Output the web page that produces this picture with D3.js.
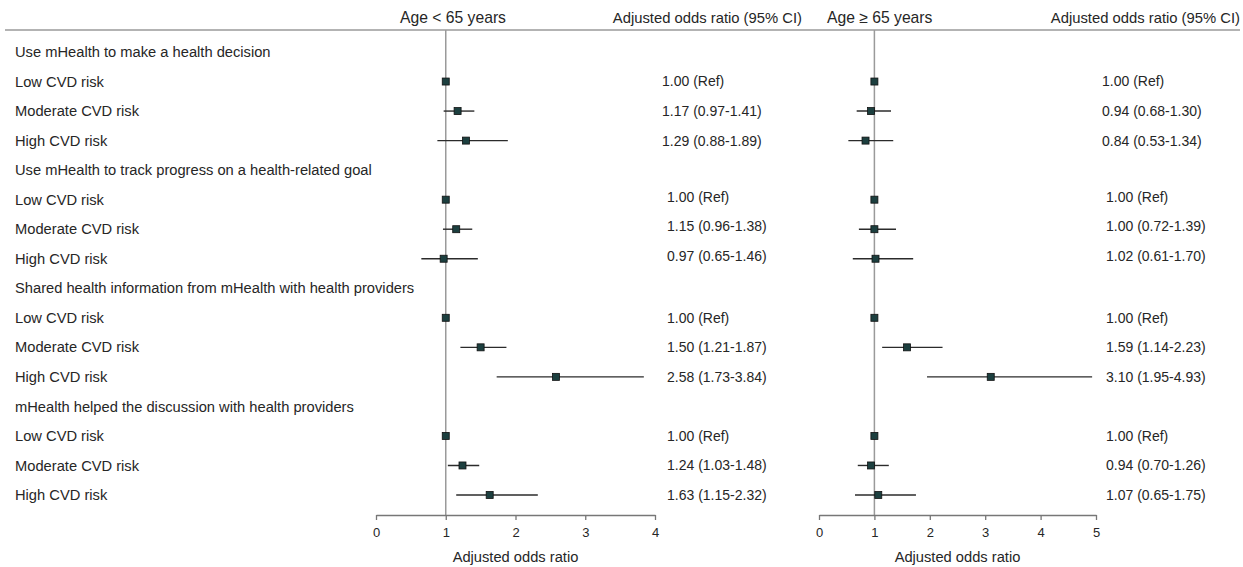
<!DOCTYPE html>
<html>
<head>
<meta charset="utf-8">
<script src="https://cdn.jsdelivr.net/npm/d3@7"></script>
<style>
  body { margin: 0; background: #fff; }
  text { font-family: "Liberation Sans", Arial, sans-serif; fill: #262626; }
</style>
</head>
<body>
<div id="chart"></div>
<script>
// Datos
const grupos = [
    "Use mHealth to make a health decision",
    "Use mHealth to track progress on a health-related goal",
    "Shared health information from mHealth with health providers",
    "mHealth helped the discussion with health providers"
];
const riesgos = ["Low CVD risk", "Moderate CVD risk", "High CVD risk"];

// Edad < 65
const jovenOR = [1.00, 1.17, 1.29, 1.00, 1.15, 0.97, 1.00, 1.50, 2.58, 1.00, 1.24, 1.63];
const jovenLo = [null, 0.97, 0.88, null, 0.96, 0.65, null, 1.21, 1.73, null, 1.03, 1.15];
const jovenHi = [null, 1.41, 1.89, null, 1.38, 1.46, null, 1.87, 3.84, null, 1.48, 2.32];

// Edad >= 65
const mayorOR = [1.00, 0.94, 0.84, 1.00, 1.00, 1.02, 1.00, 1.59, 3.10, 1.00, 0.94, 1.07];
const mayorLo = [null, 0.68, 0.53, null, 0.72, 0.61, null, 1.14, 1.95, null, 0.70, 0.65];
const mayorHi = [null, 1.30, 1.34, null, 1.39, 1.70, null, 2.23, 4.93, null, 1.26, 1.75];

const ticksJoven = [0, 1, 2, 3, 4];
const ticksMayor = [0, 1, 2, 3, 4, 5];

const titulos = ["Age < 65 years", "Age \u2265 65 years"];
const tituloCI = "Adjusted odds ratio (95% CI)";
const tituloEje = "Adjusted odds ratio";

// Filas: grupo + 3 niveles de riesgo
const filas = [];
grupos.forEach((g, gi) => {
    filas.push({ tipo: "grupo", texto: g, grupo: gi });
    riesgos.forEach((r, ri) => filas.push({ tipo: "riesgo", texto: r, grupo: gi, idx: gi * 3 + ri }));
});

const W = 1243, H = 567;
const svg = d3.select("#chart").append("svg").attr("width", W).attr("height", H);

const y = d3.scaleLinear().domain([0, filas.length - 1]).range([52, 495]);
const lineaCabecera = 30, ejeY = 515;

// Cabecera
svg.append("line")
    .attr("x1", 5).attr("x2", 1240)
    .attr("y1", lineaCabecera).attr("y2", lineaCabecera)
    .attr("stroke", "#9a9a9a").attr("stroke-width", 1.5);

// Etiquetas de filas
svg.selectAll("text.fila")
    .data(filas)
    .enter()
    .append("text")
    .attr("class", "fila")
    .attr("x", 15)
    .attr("y", (d, i) => y(i))
    .attr("dy", "0.35em")
    .style("font-size", "14.7px")
    .text(d => d.texto);

const fmt = d3.format(".2f");

function panel(cfg) {
    const x = d3.scaleLinear().domain(cfg.dominio).range(cfg.rango);

    svg.append("text")
        .attr("x", cfg.tituloX).attr("y", 18).attr("dy", "0.35em")
        .style("font-size", "15.7px")
        .text(cfg.titulo);

    svg.append("text")
        .attr("x", cfg.ciX).attr("y", 18).attr("dy", "0.35em")
        .attr("text-anchor", "end")
        .style("font-size", "14.8px")
        .text(tituloCI);

    // Linea de referencia OR = 1
    svg.append("line")
        .attr("x1", x(1)).attr("x2", x(1))
        .attr("y1", lineaCabecera).attr("y2", ejeY)
        .attr("stroke", "#9a9a9a").attr("stroke-width", 1.5);

    const datos = filas.filter(d => d.tipo === "riesgo").map(d => ({
        fila: filas.indexOf(d),
        grupo: d.grupo,
        or: cfg.or[d.idx],
        lo: cfg.lo[d.idx],
        hi: cfg.hi[d.idx]
    }));

    // Intervalos de confianza
    svg.selectAll(null)
        .data(datos.filter(d => d.lo !== null))
        .enter()
        .append("line")
        .attr("x1", d => x(d.lo)).attr("x2", d => x(d.hi))
        .attr("y1", d => y(d.fila)).attr("y2", d => y(d.fila))
        .attr("stroke", "#2b2b2b").attr("stroke-width", 1.4);

    // Marcadores
    svg.selectAll(null)
        .data(datos)
        .enter()
        .append("rect")
        .attr("x", d => x(d.or) - 3.5)
        .attr("y", d => y(d.fila) - 3.5)
        .attr("width", 7).attr("height", 7)
        .attr("fill", "#1c3f3f")
        .attr("stroke", "#111").attr("stroke-width", 0.8);

    // Texto OR (IC 95%)
    svg.selectAll(null)
        .data(datos)
        .enter()
        .append("text")
        .attr("x", d => cfg.textoX + (d.grupo === 0 ? cfg.ajusteG1 : 0))
        .attr("y", d => y(d.fila) + (d.grupo === 1 ? -3 : 0))
        .attr("dy", "0.35em")
        .style("font-size", "14px")
        .text(d => d.lo === null ? `${fmt(d.or)} (Ref)` : `${fmt(d.or)} (${fmt(d.lo)}-${fmt(d.hi)})`);

    // Eje
    const eje = svg.append("g")
        .attr("transform", `translate(0, ${ejeY})`)
        .call(d3.axisBottom(x).tickValues(cfg.ticks).tickFormat(d3.format("d"))
            .tickSize(5).tickSizeOuter(0).tickPadding(8));
    eje.select(".domain").attr("stroke", "#777").attr("stroke-width", 1.3);
    eje.selectAll(".tick line").attr("stroke", "#777").attr("stroke-width", 1.3);
    eje.selectAll(".tick text")
        .style("font-family", "'Liberation Sans', Arial, sans-serif")
        .style("font-size", "13px")
        .attr("fill", "#333");

    svg.append("text")
        .attr("x", (cfg.rango[0] + cfg.rango[1]) / 2)
        .attr("y", 557).attr("dy", "0.35em")
        .attr("text-anchor", "middle")
        .style("font-size", "14.7px")
        .text(tituloEje);
}

panel({
    titulo: titulos[0], tituloX: 400, ciX: 802,
    dominio: [0, 4], rango: [376, 655], ticks: ticksJoven,
    or: jovenOR, lo: jovenLo, hi: jovenHi,
    textoX: 667, ajusteG1: -5
});

panel({
    titulo: titulos[1], tituloX: 827, ciX: 1240,
    dominio: [0, 5], rango: [819, 1096], ticks: ticksMayor,
    or: mayorOR, lo: mayorLo, hi: mayorHi,
    textoX: 1106, ajusteG1: -4
});
</script>
</body>
</html>
